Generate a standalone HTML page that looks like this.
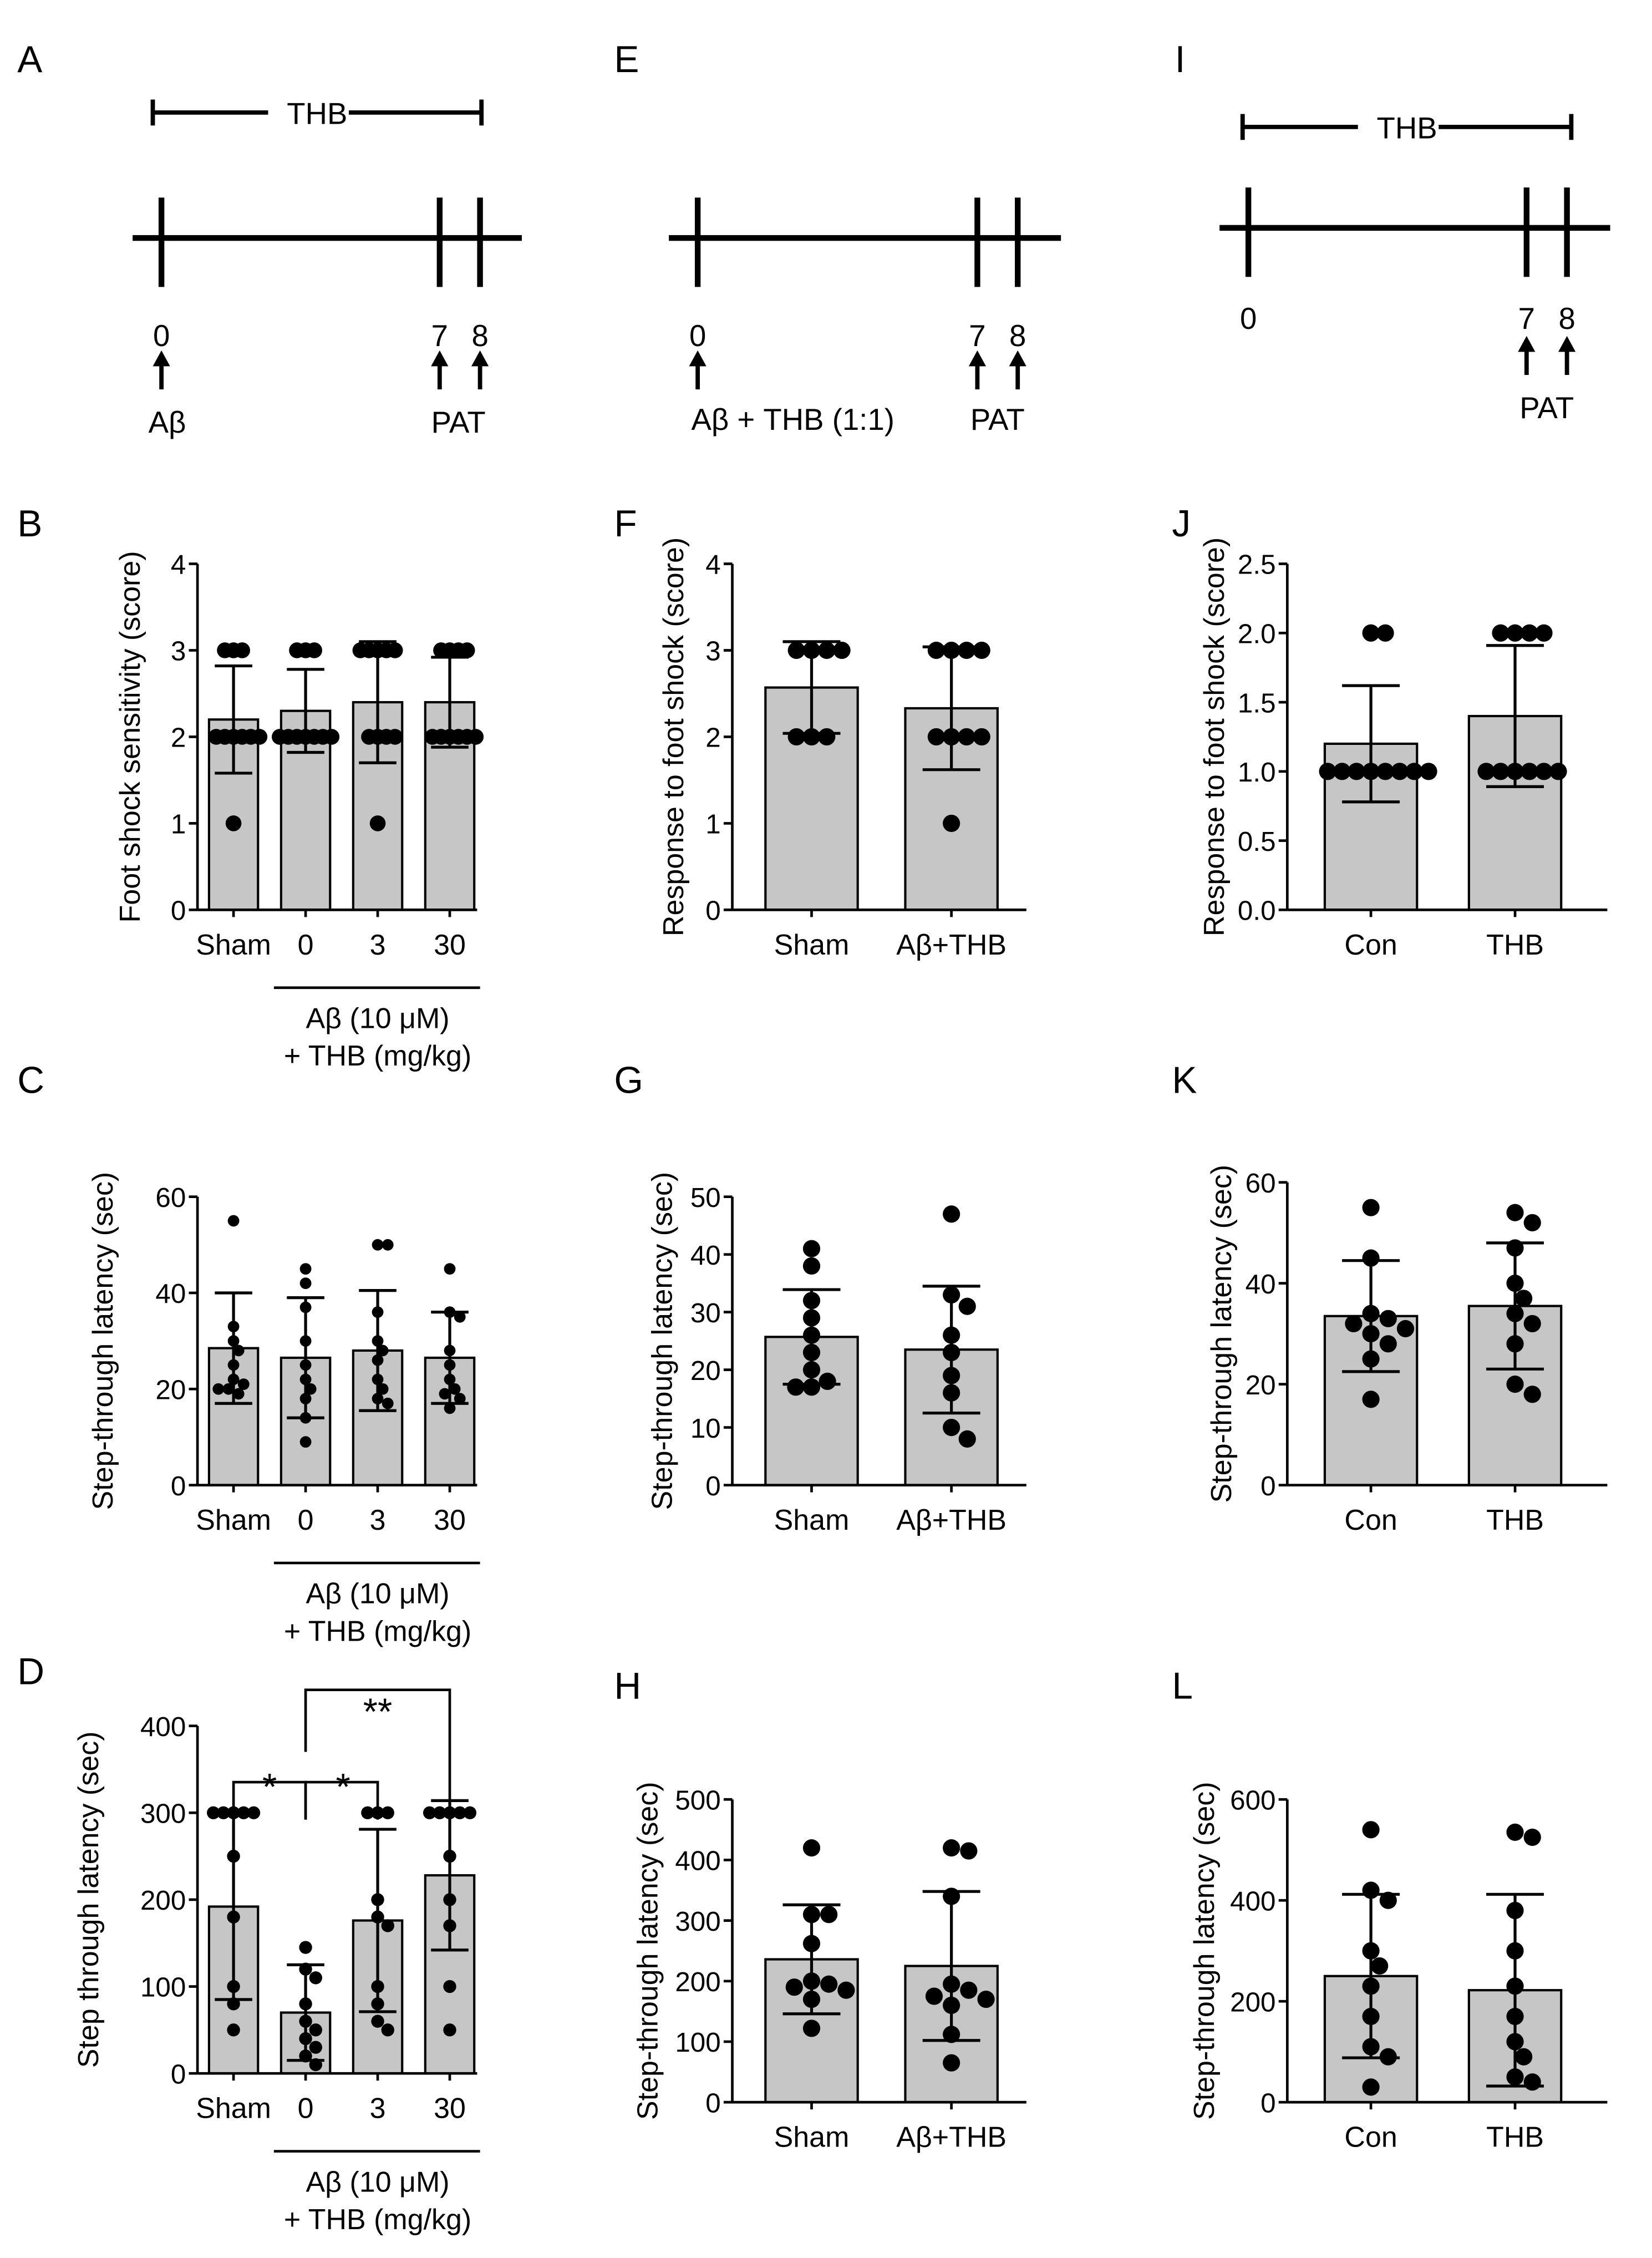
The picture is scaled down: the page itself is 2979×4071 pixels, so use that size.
<!DOCTYPE html>
<html><head><meta charset="utf-8">
<style>
html,body{margin:0;padding:0;background:#fff;}
svg{display:block;}
text{font-family:"Liberation Sans",Arial,sans-serif;fill:#000;}
</style></head>
<body>
<svg id="fig" width="2979" height="4071" viewBox="0 0 1146 1566" xmlns="http://www.w3.org/2000/svg">
<rect width="1146" height="1566" fill="#fff"/>
<g font-size="26">
<text x="12" y="50">A</text>
<text x="426" y="50">E</text>
<text x="815" y="50">I</text>
<text x="12" y="372">B</text>
<text x="426" y="372">F</text>
<text x="813" y="372">J</text>
<text x="12" y="758">C</text>
<text x="426" y="758">G</text>
<text x="813" y="758">K</text>
<text x="12" y="1168">D</text>
<text x="426" y="1178">H</text>
<text x="813" y="1178">L</text>
</g>
<script>
const NS="http://www.w3.org/2000/svg";
const svg=document.getElementById('fig');
function el(tag,attrs,parent){const e=document.createElementNS(NS,tag);for(const k in attrs)e.setAttribute(k,attrs[k]);(parent||svg).appendChild(e);return e;}
function txt(s,x,y,size,anchor,parent){const t=el('text',{x:x,y:y,'font-size':size,'text-anchor':anchor||'middle'},parent);t.textContent=s;return t;}

function timeline(name,o){
  const g=el('g',{});
  
  
  if(o.thb){
    el('line',{x1:o.thb[0],y1:o.thb[2],x2:o.thb[0]+80,y2:o.thb[2],stroke:'#000','stroke-width':3},g);
    el('line',{x1:o.thb[1]-92,y1:o.thb[2],x2:o.thb[1],y2:o.thb[2],stroke:'#000','stroke-width':3},g);
    el('line',{x1:o.thb[0],y1:o.thb[2]-9,x2:o.thb[0],y2:o.thb[2]+9,stroke:'#000','stroke-width':3},g);
    el('line',{x1:o.thb[1],y1:o.thb[2]-9,x2:o.thb[1],y2:o.thb[2]+9,stroke:'#000','stroke-width':3},g);
    const t=txt('THB',(o.thb[0]+o.thb[1])/2,o.thb[2]+8,21,'middle',g);
    
    
  }
  el('line',{x1:o.line[0],y1:o.ly,x2:o.line[1],y2:o.ly,stroke:'#000','stroke-width':4},g);
  o.ticks.forEach((x,i)=>{
    el('line',{x1:x,y1:o.ly-28,x2:x,y2:o.ly+34,stroke:'#000','stroke-width':4},g);
    txt(o.labels[i],x,o.numY,21,'middle',g);
  });
  o.arrows.forEach(x=>{
    el('line',{x1:x,y1:o.arY+24,x2:x,y2:o.arY+4,stroke:'#000','stroke-width':3},g);
    el('polygon',{points:`${x-6},${o.arY+8} ${x+6},${o.arY+8} ${x},${o.arY-3}`,fill:'#000'},g);
  });
  o.texts.forEach(t=>txt(t[0],t[1],t[2],21,'middle',g));
}
timeline('timeline-a',{thb:[106,334,78],line:[92,362],ly:165,ticks:[112,305,333],labels:['0','7','8'],numY:240,arrows:[112,305,333],arY:246,texts:[['Aβ',116,300],['PAT',318,300]]});
timeline('timeline-e',{line:[464,736],ly:165,ticks:[484,678,706],labels:['0','7','8'],numY:240,arrows:[484,678,706],arY:246,texts:[['Aβ + THB (1:1)',550,298],['PAT',692,298]]});
timeline('timeline-i',{thb:[862,1090,88],line:[846,1117],ly:158,ticks:[866,1059,1087],labels:['0','7','8'],numY:228,arrows:[1059,1087],arY:236,texts:[['PAT',1073,290]]});

// ---- chart data ----
const bCats=['Sham','0','3','30'];
const bMeans=[2.2,2.3,2.4,2.4];
const bSD=[0.62,0.48,0.7,0.52];
const bPts=[[3,3,3,2,2,2,2,2,2,1],[3,3,3,2,2,2,2,2,2,2],[3,3,3,3,3,2,2,2,2,1],[3,3,3,3,2,2,2,2,2,2]];
const bTicks=[0,1,2,3,4];

const cCats=['Sham','0','3','30'];
const cMeans=[28.5,26.5,28,26.5];
const cSD=[11.5,12.5,12.5,9.5];
const cPts=[[55,33,30,28,25,22,21,20,20,19],[45,42,37,30,25,22,20,14,9,18],[50,50,36,30,28,26,22,20,18,17],[45,36,35,28,25,22,20,19,18,16]];
const cTicks=[0,20,40,60];

const dCats=['Sham','0','3','30'];
const dMeans=[192,70,176,228];
const dSD=[107,55,105,86];
const dPts=[[300,300,300,300,300,250,180,100,80,50],[145,120,110,80,60,50,40,30,20,10],[300,300,300,200,180,170,100,80,60,50],[300,300,300,300,300,250,200,170,100,50]];
const dTicks=[0,100,200,300,400];

const fCats=['Sham','Aβ+THB'];
const fMeans=[2.57,2.33];
const fSD=[0.53,0.71];
const fPts=[[3,3,3,3,2,2,2],[3,3,3,3,2,2,2,2,1]];
const fTicks=[0,1,2,3,4];

const gCats=['Sham','Aβ+THB'];
const gMeans=[25.7,23.5];
const gSD=[8.2,11];
const gPts=[[41,38,32,29,26,23,20,18,17,17],[47,33,31,26,23,19,16,10,8]];
const gTicks=[0,10,20,30,40,50];

const hCats=['Sham','Aβ+THB'];
const hMeans=[236,225];
const hSD=[90,123];
const hPts=[[420,310,310,262,200,185,195,170,190,122],[420,415,340,175,185,160,195,170,112,65]];
const hTicks=[0,100,200,300,400,500];

const jCats=['Con','THB'];
const jMeans=[1.2,1.4];
const jSD=[0.42,0.51];
const jPts=[[2,2,1,1,1,1,1,1,1,1],[2,2,2,2,1,1,1,1,1,1]];
const jTicks=[0,0.5,1,1.5,2,2.5];
const jFmt=v=>v.toFixed(1);

const kCats=['Con','THB'];
const kMeans=[33.5,35.5];
const kSD=[11,12.5];
const kPts=[[55,45,34,33,32,31,28,25,17,30],[54,52,47,37,34,32,28,20,18,40]];
const kTicks=[0,20,40,60];

const lCats=['Con','THB'];
const lMeans=[250,222];
const lSD=[162,190];
const lPts=[[540,420,400,300,270,230,170,110,90,30],[535,525,380,300,230,170,120,90,50,40]];
const lTicks=[0,200,400,600];

function chart(name,o){
  const g=el('g',{});
  
  
  const tMin=o.ticks[0],tMax=o.ticks[o.ticks.length-1];
  const y=v=>o.y0-(v-tMin)/(tMax-tMin)*(o.y0-o.yTop);
  const x=i=>o.cx[i];
  o.means.forEach((m,i)=>{
    const b=el('rect',{x:x(i)-o.bw/2,y:y(m),width:o.bw,height:o.y0-y(m),fill:'#c6c6c6',stroke:'#000','stroke-width':1.6},g);
    
    
  });
  const r=o.r||5.5;
  const md=o.md||r*1.7;
  o.pts.forEach((arr,i)=>{
    const placed=[];
    arr.slice().sort((a,b)=>b-a).forEach(v=>{
      const py=y(v);let best=0;
      for(let k=0;k<60;k++){
        const off=(k%2?1:-1)*Math.ceil(k/2)*md*0.5;
        if(placed.every(p=>Math.hypot(p[0]-off,p[1]-py)>=md)){best=off;break;}
      }
      placed.push([best,py]);
      const c=el('circle',{cx:x(i)+best,cy:py,r:r,fill:'#000'},g);
      
      
    });
  });
  o.means.forEach((m,i)=>{
    const cw=o.cap;
    el('line',{x1:x(i),y1:y(m-o.sd[i]),x2:x(i),y2:y(m+o.sd[i]),stroke:'#000','stroke-width':2},g);
    el('line',{x1:x(i)-cw/2,y1:y(m+o.sd[i]),x2:x(i)+cw/2,y2:y(m+o.sd[i]),stroke:'#000','stroke-width':2},g);
    el('line',{x1:x(i)-cw/2,y1:y(m-o.sd[i]),x2:x(i)+cw/2,y2:y(m-o.sd[i]),stroke:'#000','stroke-width':2},g);
  });
  const ya=el('line',{x1:o.ax,y1:y(tMax),x2:o.ax,y2:o.y0,stroke:'#000','stroke-width':1.8},g);
  
  const xa=el('line',{x1:o.ax,y1:o.y0,x2:o.axEnd,y2:o.y0,stroke:'#000','stroke-width':1.8},g);
  
  o.ticks.forEach(t=>{
    el('line',{x1:o.ax-6,y1:y(t),x2:o.ax,y2:y(t),stroke:'#000','stroke-width':1.8},g);
    const tl=txt(o.fmt?o.fmt(t):String(t),o.ax-8,y(t)+7,19,'end',g);
    
  });
  o.cats.forEach((c,i)=>{
    el('line',{x1:x(i),y1:o.y0,x2:x(i),y2:o.y0+5,stroke:'#000','stroke-width':1.8},g);
    const tl=txt(c,x(i),o.y0+31,20,'middle',g);
    
  });
  const tt=txt(o.title,0,0,20,'middle',g);
  tt.setAttribute('transform',`translate(${o.tx},${(y(tMax)+o.y0)/2}) rotate(-90)`);
  
  if(o.group){
    el('line',{x1:o.cx[1]-22,y1:o.y0+54,x2:o.axEnd+2,y2:o.y0+54,stroke:'#000','stroke-width':1.8},g);
    txt('Aβ (10 μM)',(o.cx[1]+o.cx[3])/2,o.y0+82,20,'middle',g);
    txt('+ THB (mg/kg)',(o.cx[1]+o.cx[3])/2,o.y0+108,20,'middle',g);
  }
  return {g,y,x};
}
const cx4=[162,212,262,312];
chart('chart-b',{cats:bCats,means:bMeans,sd:bSD,pts:bPts,ticks:bTicks,y0:631,yTop:391,ax:137,axEnd:331,cx:cx4,bw:34,cap:26,md:6,title:'Foot shock sensitivity (score)',tx:97,group:true});
chart('chart-c',{cats:cCats,means:cMeans,sd:cSD,pts:cPts,ticks:cTicks,y0:1030,yTop:830,ax:137,axEnd:331,cx:cx4,bw:34,cap:26,r:4,md:7,title:'Step-through latency (sec)',tx:78,group:true});
chart('chart-d',{cats:dCats,means:dMeans,sd:dSD,pts:dPts,ticks:dTicks,y0:1438,yTop:1197,ax:137,axEnd:331,cx:cx4,bw:34,cap:26,r:4.5,md:7,title:'Step through latency (sec)',tx:68,group:true});
(function(){
  const g=el('g',{});
  
  
  const s={stroke:'#000','stroke-width':1.8,fill:'none'};
  el('polyline',Object.assign({points:'162,1262 162,1236 212,1236 212,1262'},s),g);
  el('polyline',Object.assign({points:'212,1262 212,1236 262,1236 262,1262'},s),g);
  el('polyline',Object.assign({points:'212,1215 212,1172 312,1172 312,1262'},s),g);
  txt('*',187,1248,26,'middle',g);
  txt('*',238,1248,26,'middle',g);
  txt('**',262,1196,26,'middle',g);
})();
const cx2F=[563,660];
chart('chart-f',{cats:fCats,means:fMeans,sd:fSD,pts:fPts,ticks:fTicks,y0:631,yTop:391,ax:508,axEnd:712,cx:cx2F,bw:64,cap:40,r:6,md:10.5,title:'Response to foot shock (score)',tx:474});
chart('chart-g',{cats:gCats,means:gMeans,sd:gSD,pts:gPts,ticks:gTicks,y0:1030,yTop:830,ax:508,axEnd:712,cx:cx2F,bw:64,cap:40,r:6,md:11,title:'Step-through latency (sec)',tx:466});
chart('chart-h',{cats:hCats,means:hMeans,sd:hSD,pts:hPts,ticks:hTicks,y0:1458,yTop:1248,ax:508,axEnd:712,cx:cx2F,bw:64,cap:40,r:6,md:12,title:'Step-through latency (sec)',tx:456});
const cx2J=[951,1051];
chart('chart-j',{cats:jCats,means:jMeans,sd:jSD,pts:jPts,ticks:jTicks,fmt:jFmt,y0:631,yTop:391,ax:893,axEnd:1115,cx:cx2J,bw:64,cap:40,r:6,md:10,title:'Response to foot shock (score)',tx:849});
chart('chart-k',{cats:kCats,means:kMeans,sd:kSD,pts:kPts,ticks:kTicks,y0:1030,yTop:820,ax:893,axEnd:1115,cx:cx2J,bw:64,cap:40,r:6,md:12,title:'Step-through latency (sec)',tx:854});
chart('chart-l',{cats:lCats,means:lMeans,sd:lSD,pts:lPts,ticks:lTicks,y0:1458,yTop:1248,ax:893,axEnd:1115,cx:cx2J,bw:64,cap:40,r:6,md:12,title:'Step-through latency (sec)',tx:842});
</script>
</svg>
</body></html>
